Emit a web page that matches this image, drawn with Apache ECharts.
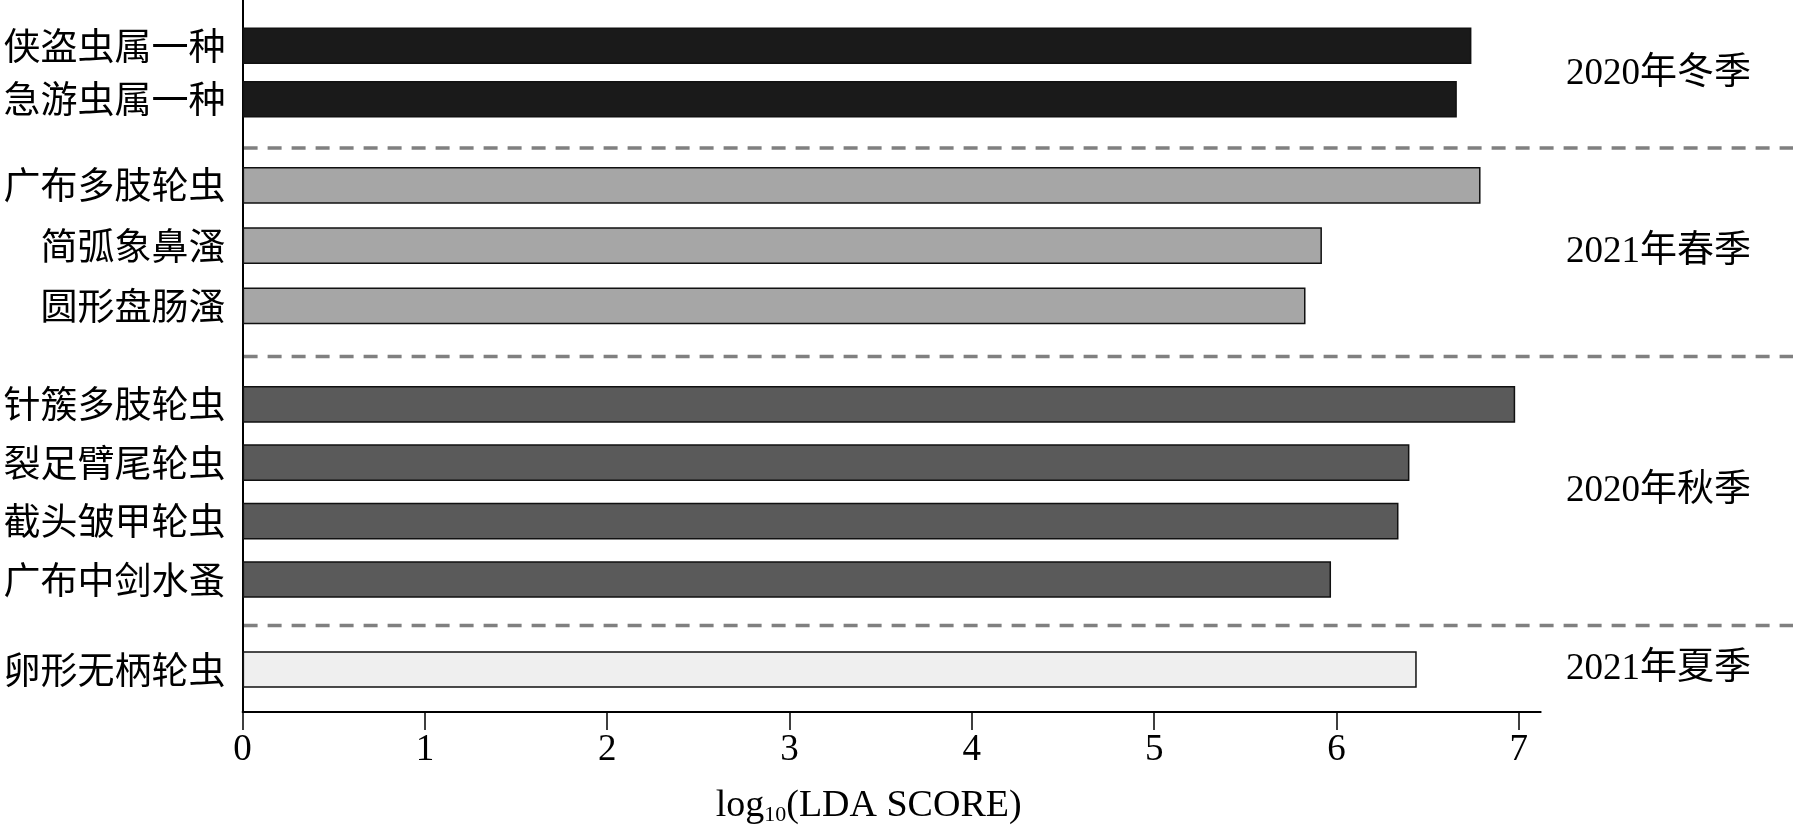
<!DOCTYPE html>
<html>
<head>
<meta charset="utf-8">
<script src="https://cdn.jsdelivr.net/npm/echarts@6/dist/echarts.min.js"></script>
<style>
  html, body { margin: 0; padding: 0; background: #fff; }
  #myChart { width: 1793px; height: 831px; }
</style>
</head>
<body>
<div id="myChart"></div>
<script>
// 分组数据（从上到下）
const seasons = ['2020年冬季', '2021年春季', '2020年秋季', '2021年夏季']
const species = [
  ['侠盗虫属一种', '急游虫属一种'],
  ['广布多肢轮虫', '简弧象鼻溞', '圆形盘肠溞'],
  ['针簇多肢轮虫', '裂足臂尾轮虫', '截头皱甲轮虫', '广布中剑水蚤'],
  ['卵形无柄轮虫']
]
const ldaScores = [
  [6.74, 6.66],
  [6.79, 5.92, 5.83],
  [6.98, 6.40, 6.34, 5.97],
  [6.44]
]
const xTicks = [0, 1, 2, 3, 4, 5, 6, 7]
const xMax = 7.12

// 版面
const axisLeft = 242.6
const axisRight = 1540.7
const axisY = 713.5
const W = 1793
const H = 831
const barGrids = [
  { top: 19, height: 107 },
  { top: 155.2, height: 180.75 },
  { top: 375.1, height: 233.6 },
  { top: 625.5, height: 88 }
]
const dividers = [148, 356.5, 625.5]
const groupColors = ['#1a1a1a', '#a6a6a6', '#5a5a5a', '#efefef']
const serif = "'Liberation Serif', 'Noto Sans CJK SC'"

const grid = []
const xAxis = []
const yAxis = []
const series = []
barGrids.forEach((g, i) => {
  grid.push({ left: axisLeft, right: W - axisRight, top: g.top, height: g.height, containLabel: false })
  xAxis.push({ type: 'value', gridIndex: i, min: 0, max: xMax, show: false })
  yAxis.push({
    type: 'category',
    gridIndex: i,
    inverse: true,
    data: species[i],
    axisLine: { show: false },
    axisTick: { show: false },
    axisLabel: { color: '#000', fontSize: 37, fontFamily: 'Noto Sans CJK SC', margin: 17 }
  })
  series.push({
    type: 'bar',
    xAxisIndex: i,
    yAxisIndex: i,
    data: ldaScores[i],
    barWidth: 36.7,
    silent: true,
    itemStyle: { color: groupColors[i], borderColor: '#111', borderWidth: 1.5 }
  })
})

// 外框坐标轴
grid.push({ left: axisLeft, right: W - axisRight, top: 0, bottom: H - axisY, containLabel: false })
xAxis.push({
  type: 'value',
  gridIndex: 4,
  min: 0,
  max: xMax,
  axisLine: { show: true, lineStyle: { color: '#000', width: 2 } },
  axisTick: { show: true, customValues: xTicks, length: 18, lineStyle: { color: '#000', width: 1.5 } },
  axisLabel: { customValues: xTicks, color: '#000', fontSize: 37, fontFamily: serif, margin: 20 },
  splitLine: { show: false },
  name: 'log{sub|10}(LDA SCORE)',
  nameLocation: 'middle',
  nameGap: 74,
  nameTextStyle: {
    color: '#000', fontSize: 38, fontFamily: serif, padding: [0, 46, 0, 0],
    rich: { sub: { fontSize: 22, fontFamily: serif, color: '#000', padding: [18, 0, 0, 0] } }
  }
})
yAxis.push({
  type: 'value',
  gridIndex: 4,
  min: 0,
  max: 1,
  axisLine: { show: true, lineStyle: { color: '#000', width: 2 } },
  axisTick: { show: false },
  axisLabel: { show: false },
  splitLine: { show: false }
})

const graphic = []
dividers.forEach(y => {
  graphic.push({
    type: 'line',
    shape: { x1: axisLeft + 1, y1: y, x2: W, y2: y },
    style: { stroke: '#808080', lineWidth: 3.5, lineDash: [14, 10] },
    silent: true
  })
})
const bounds = [0].concat(dividers, [axisY])
seasons.forEach((s, i) => {
  graphic.push({
    type: 'text',
    x: 1566,
    y: (bounds[i] + bounds[i + 1]) / 2,
    style: { text: s, fill: '#000', font: '37px ' + serif, textVerticalAlign: 'middle', textAlign: 'left' },
    silent: true
  })
})

const myChart = echarts.init(document.getElementById('myChart'))
myChart.setOption({
  animation: false,
  backgroundColor: '#fff',
  grid,
  xAxis,
  yAxis,
  series,
  graphic
})
</script>
</body>
</html>
